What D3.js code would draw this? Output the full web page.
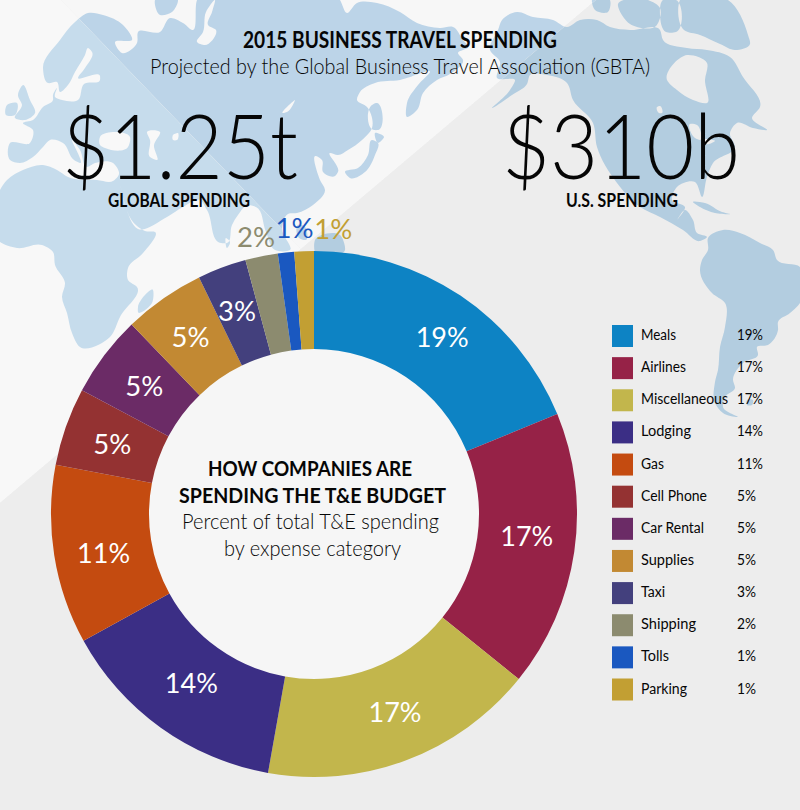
<!DOCTYPE html>
<html>
<head>
<meta charset="utf-8">
<title>2015 Business Travel Spending</title>
<script src="https://cdn.jsdelivr.net/npm/d3@7"></script>
<style>
  html, body { margin: 0; padding: 0; background: #ededed; }
  svg { display: block; }
  text { font-family: Lato, "Open Sans", sans-serif; fill: #060606; }
</style>
</head>
<body>
<div id="chart"></div>
<script>
// chart values
var categories = ["Meals", "Airlines", "Miscellaneous", "Lodging", "Gas", "Cell Phone",
                  "Car Rental", "Supplies", "Taxi", "Shipping", "Tolls", "Parking"];
var shares = [18.8, 17, 17, 14.2, 11, 4.8, 5, 5, 3, 2, 1, 1.2];
var colors = ["#0d83c4", "#962247", "#c2b64c", "#3b2e85", "#c44b10", "#943232",
              "#6b2b66", "#c28933", "#43407d", "#8c8b6f", "#1a58c0", "#c29f33"];
var totals = ["$1.25t", "$310b"];
var totalLabels = ["GLOBAL SPENDING", "U.S. SPENDING"];

// background map, rough outlines in page pixels
var eurafrasia = [[75,22],[88,13],[103,15],[123,25],[132,40],[115,42],[122,53],[137,43],[138,32],[160,32],[170,18],[183,23],[192,30],[197,0],
  [340,0],[347,13],[357,3],[377,3],[400,12],[417,23],[440,28],[453,27],[463,40],[468,47],[458,53],[463,60],[450,74],[437,80],[423,93],[417,110],[407,117],[407,103],[418,85],[430,72],
  [400,80],[375,83],[360,92],[357,100],[367,107],[372,128],[362,140],[348,150],[338,155],[330,153],[338,172],[335,176],[323,172],[322,160],[316,156],[320,180],[325,190],[313,205],[297,213],[288,214],[282,228],[290,250],[275,250],[266,232],[256,207],[248,205],[238,215],[232,225],[227,243],[221,243],[207,210],[200,200],[183,207],[167,217],[138,229],[125,205],[120,182],
  [122,193],[137,226],[145,231],[155,232],[143,253],[128,268],[128,280],[137,287],[120,317],[110,337],[80,347],[72,333],[67,313],[62,297],[65,283],[55,265],[53,252],[42,245],[17,248],[0,242],[0,190],[7,180],[23,170],[43,165],[57,170],[68,177],[97,180],[113,181],
  [119,174],[113,163],[95,163],[87,167],[80,150],[72,140],[80,163],[74,160],[63,143],[50,140],[43,147],[33,157],[20,163],[10,160],[10,143],[30,143],[33,130],[23,123],[33,120],[43,107],[53,100],[53,95],[57,88],[55,97],[62,100],[78,100],[84,84],[100,80],[100,76],[78,78],[85,68],[92,52],[88,48],[85,55],[75,72],[68,85],[60,92],[57,82],[48,83],[43,68],[60,40]];
var northAmerica = [[498,30],[502,20],[517,12],[533,17],[553,20],[567,27],[580,20],[597,20],[610,27],[630,30],[660,30],[663,40],[687,48],[707,50],[730,57],[743,77],[760,107],[752,118],[767,130],[753,128],[737,123],[730,133],[735,147],[713,163],[707,177],[702,197],[695,182],[677,187],[672,200],[685,207],[677,220],[685,210],[693,220],[697,233],[707,237],[700,241],[683,230],[660,217],[640,207],[617,183],[597,147],[593,123],[573,100],[567,83],[547,75],[530,75],[527,84],[512,95],[492,108],[510,90],[515,80],[497,78],[500,62],[490,50]];
var southAmerica = [[708,238],[723,230],[740,233],[760,243],[773,250],[777,260],[800,267],[800,303],[790,313],[778,322],[778,330],[768,345],[757,347],[758,355],[743,363],[733,380],[735,388],[725,397],[723,407],[738,417],[723,413],[715,403],[715,382],[718,370],[720,347],[725,327],[725,303],[712,293],[700,270],[702,260],[708,250]];
var islands = [
  [[155,0],[178,0],[172,12],[160,15]],                                  // Novaya Zemlya
  [[23,85],[30,100],[35,113],[25,120],[15,118],[22,105],[18,95]],       // Britain
  [[7,105],[17,103],[15,115],[6,115]],                                  // Ireland
  [[345,172],[358,168],[368,155],[372,140],[378,143],[375,155],[365,172],[350,178]], // Japan
  [[375,133],[384,137],[378,143]],
  [[372,105],[376,103],[378,130],[374,130]],                            // Sakhalin
  [[298,225],[304,226],[306,240],[299,238]],
  [[315,240],[340,235],[345,250],[315,252]],
  [[226,238],[230,242],[227,248]],
  [[138,307],[153,290],[152,303],[138,312]],                            // Madagascar
  [[592,0],[610,0],[608,12],[595,10]],
  [[618,4],[648,0],[660,8],[656,26],[630,24]],
  [[663,0],[676,0],[676,32],[666,32],[660,15]],
  [[680,0],[728,0],[748,35],[750,44],[735,50],[720,44],[700,35],[684,30]], // Baffin
  [[693,202],[705,203],[722,212],[730,214],[715,213],[700,207]],        // Cuba
  [[747,400],[753,400],[752,405],[747,405]]
];
var lakes = [
  [[100,137],[115,132],[130,137],[128,147],[105,148],[100,145]],        // Black Sea
  [[147,132],[160,132],[154,145],[157,160],[150,157],[150,140]],        // Caspian
  [[173,135],[178,133],[177,140],[173,140]],
  [[283,113],[295,100],[287,112]],                                      // Baikal
  [[215,0],[212,12],[208,25],[216,30],[205,45],[197,42],[203,32],[206,12]],
  [[667,80],[687,55],[707,63],[705,80],[707,103],[693,100],[677,90]],   // Hudson Bay
  [[657,107],[660,106],[662,113],[659,113]],
  [[690,124],[697,125],[700,140],[695,138]],
  [[703,140],[715,141],[706,144]]
];
var lands = [eurafrasia, northAmerica, southAmerica].concat(islands, lakes);

var W = 800, H = 810;
var svg = d3.select("#chart").append("svg").attr("width", W).attr("height", H);

// three shaded background zones, the map takes a different blue in each
var zones = [
  {pts: [[0,0],[61,0],[301,249],[0,503]], bg: "#f8f8f8", land: "#c6dcec"},
  {pts: [[61,0],[596,0],[301,249]], bg: "#f7f7f7", land: "#bcd4e8"},
  {pts: [[596,0],[800,0],[800,810],[0,810],[0,503]], bg: "#ededed", land: "#b3cde0"}
];
var ring = d3.line().curve(d3.curveLinearClosed);
var coast = d3.line().curve(d3.curveCatmullRomClosed.alpha(1));
var landPath = lands.map(function(d) { return coast(d); }).join("");

zones.forEach(function(z, i) {
  svg.append("clipPath").attr("id", "zone" + i).append("path").attr("d", ring(z.pts));
  svg.append("path").attr("d", ring(z.pts)).attr("fill", z.bg);
  svg.append("path")
    .attr("d", landPath)
    .attr("fill", z.land)
    .attr("fill-rule", "evenodd")
    .attr("clip-path", "url(#zone" + i + ")");
});

// text helper, squeezes the glyphs to the width
function label(str, x, y, size, weight, width, color) {
  var t = svg.append("text")
    .attr("x", x).attr("y", y)
    .style("font-size", size + "px")
    .style("font-weight", weight)
    .text(str);
  if (color) t.style("fill", color);
  if (width) t.attr("textLength", width).attr("lengthAdjust", "spacingAndGlyphs");
  return t;
}

label("2015 BUSINESS TRAVEL SPENDING", 243, 48, 22, 700, 314);
label("Projected by the Global Business Travel Association (GBTA)", 150, 74, 22, 300, 500);

label(totals[0], 62, 179, 90, 300, 236);
label(totals[1], 502, 179, 90, 300, 238);
label(totalLabels[0], 108, 207, 18, 700, 142);
label(totalLabels[1], 566, 207, 18, 700, 112);

// donut
var cx = 314, cy = 514, outer = 263, inner = 165;
var pie = d3.pie().sort(null)(shares);
var arc = d3.arc().innerRadius(inner).outerRadius(outer);
var donut = svg.append("g").attr("transform", "translate(" + cx + "," + cy + ")");

donut.append("circle").attr("r", inner + 1).attr("fill", "#f6f6f6");
donut.selectAll("path")
  .data(pie)
  .enter()
  .append("path")
  .attr("d", arc)
  .attr("fill", function(d, i) { return colors[i]; });

// slice labels sit on the ring centre, the last three outside it
var labelArc = d3.arc().innerRadius(214).outerRadius(214);
var outsideArc = d3.arc().innerRadius(285).outerRadius(285);
var labelNudge = [[9,1],[1,-9],[6,-2],[2,-5],[1,6],[0,1],[1,1],[-1,-2],[-2,-3],[-1,2],[11,-3],[30,0]];

pie.forEach(function(d, i) {
  var small = i >= 9;
  var c = (small ? outsideArc : labelArc).centroid(d);
  var txt = Math.round(shares[i]) + "%";
  var w = txt.length == 3 ? 53 : 38;
  label(txt, cx + c[0] + labelNudge[i][0] - w / 2, cy + c[1] + labelNudge[i][1] + 10, 27, 400, w,
        small ? colors[i] : "#fff");
});

// centre text
label("HOW COMPANIES ARE", 208, 476, 21, 700, 204);
label("SPENDING THE T&E BUDGET", 179, 503, 21, 700, 267);
label("Percent of total T&E spending", 182, 529, 22, 300, 257);
label("by expense category", 224, 556, 22, 300, 177);

// legend
var rowY = d3.scalePoint().domain(categories).range([336, 689.5]);
var legendWidths = [35, 45, 87, 50, 23, 66, 63, 53, 24, 55, 28, 46];
categories.forEach(function(name, i) {
  var y = rowY(name);
  svg.append("rect")
    .attr("x", 612).attr("y", y - 11)
    .attr("width", 21).attr("height", 22)
    .attr("fill", colors[i]);
  label(name, 641, y + 4, 15.5, 400, legendWidths[i]);
  var txt = Math.round(shares[i]) + "%";
  label(txt, 737, y + 4, 15.5, 400, txt.length == 3 ? 26 : 19);
});
</script>
</body>
</html>
